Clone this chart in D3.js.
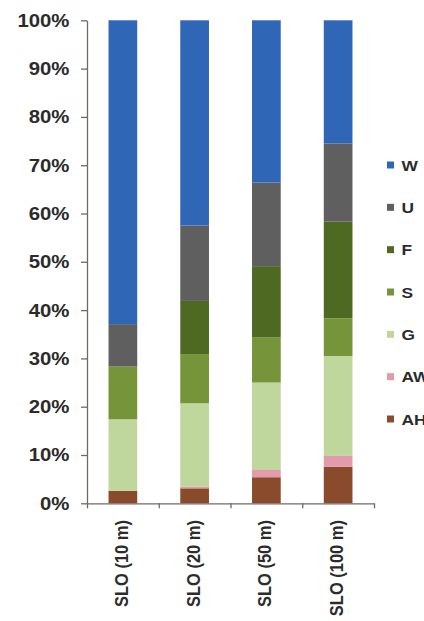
<!DOCTYPE html>
<html>
<head>
<meta charset="utf-8">
<script src="https://cdn.jsdelivr.net/npm/d3@7"></script>
<style>
  html, body { margin: 0; padding: 0; background: #fff; }
  svg { display: block; font-family: "Liberation Sans", Arial, sans-serif; }
</style>
</head>
<body>
<svg id="chart" width="424" height="621"></svg>
<script>
// Sites along the x axis
const categories = ["SLO (10 m)", "SLO (20 m)", "SLO (50 m)", "SLO (100 m)"];

// Share of each class per site (percent)
const AH = [2.6, 3.1, 5.4, 7.6];
const AW = [0.0, 0.3, 1.5, 2.2];
const G  = [14.8, 17.3, 18.1, 20.7];
const S  = [10.9, 10.2, 9.4, 7.8];
const F  = [0.0, 11.0, 14.7, 20.0];
const U  = [8.8, 15.6, 17.3, 16.2];
const W  = [62.9, 42.5, 33.6, 25.5];

// Stack order, bottom to top
const seriesKeys = ["AH", "AW", "G", "S", "F", "U", "W"];
const seriesValues = { AH, AW, G, S, F, U, W };
const seriesColors = {
  W: "#2f66b6", U: "#5f5f60", F: "#4e6a22", S: "#76943a",
  G: "#bfd79c", AW: "#e39bab", AH: "#8a4a2c"
};

// Tick labels for the value axis
const yTickValues = [0, 0.1, 0.2, 0.3, 0.4, 0.5, 0.6, 0.7, 0.8, 0.9, 1.0];
const yTickLabels = ["0%", "10%", "20%", "30%", "40%", "50%", "60%", "70%", "80%", "90%", "100%"];

const rows = categories.map((c, i) => {
  const r = { category: c };
  seriesKeys.forEach(k => { r[k] = seriesValues[k][i]; });
  return r;
});

const stacked = d3.stack()
  .keys(seriesKeys)
  .offset(d3.stackOffsetExpand)(rows);

const svg = d3.select("#chart");
const plotLeft = 87, plotRight = 374, plotTop = 20.3, plotBottom = 503.3;
const textColor = "#2b2b2b", axisColor = "#6f6a66";

const x = d3.scaleBand()
  .domain(categories)
  .range([plotLeft, plotRight])
  .paddingInner(0.6)
  .paddingOuter(0.3);

const xEdge = d3.scaleLinear().domain([0, categories.length]).range([plotLeft, plotRight]);

const y = d3.scaleLinear().domain([0, 1]).range([plotBottom, plotTop]);

// Bars
svg.append("g")
  .selectAll("g")
  .data(stacked)
  .join("g")
    .attr("fill", d => seriesColors[d.key])
  .selectAll("rect")
  .data(d => d)
  .join("rect")
    .attr("x", d => x(d.data.category))
    .attr("width", x.bandwidth())
    .attr("y", d => y(d[1]))
    .attr("height", d => Math.max(0, y(d[0]) - y(d[1])));

// Value axis
const yAxis = svg.append("g")
  .attr("transform", `translate(${plotLeft},0)`)
  .call(d3.axisLeft(y)
    .tickValues(yTickValues)
    .tickFormat((d, i) => yTickLabels[i])
    .tickSize(6)
    .tickSizeOuter(0)
    .tickPadding(10));
yAxis.select(".domain").attr("stroke", axisColor).attr("stroke-width", 1.3);
yAxis.selectAll(".tick line").attr("stroke", axisColor).attr("stroke-width", 1.3);
yAxis.selectAll(".tick text")
  .attr("fill", textColor)
  .attr("font-size", 18.5)
  .attr("font-weight", "bold")
  .attr("font-family", "'Liberation Sans', Arial, sans-serif")
  .attr("transform", "scale(1.1,1)");

// Category axis: line with boundary ticks
const xAxis = svg.append("g")
  .attr("transform", `translate(0,${plotBottom})`)
  .call(d3.axisBottom(xEdge)
    .tickValues(d3.range(categories.length + 1))
    .tickFormat("")
    .tickSize(5)
    .tickSizeOuter(0));
xAxis.select(".domain").attr("stroke", axisColor).attr("stroke-width", 1.3);
xAxis.selectAll(".tick line").attr("stroke", axisColor).attr("stroke-width", 1.3);

// Rotated category labels
svg.append("g")
  .selectAll("text")
  .data(categories)
  .join("text")
    .attr("transform", d => `translate(${x(d) + x.bandwidth() / 2 + 5},520) rotate(-90) scale(1,1.1)`)
    .attr("text-anchor", "end")
    .attr("font-size", 16.5)
    .attr("font-weight", "bold")
    .attr("fill", textColor)
    .text(d => d);

// Legend, top to bottom
const legendKeys = ["W", "U", "F", "S", "G", "AW", "AH"];
const legendY = d3.scalePoint().domain(legendKeys).range([165, 419]);
const legend = svg.append("g")
  .selectAll("g")
  .data(legendKeys)
  .join("g")
    .attr("transform", d => `translate(387,${legendY(d)})`);
legend.append("rect")
  .attr("x", 0).attr("y", -3.5)
  .attr("width", 7).attr("height", 7)
  .attr("fill", d => seriesColors[d]);
legend.append("text")
  .attr("transform", "translate(14.5,0) scale(1.12,1)")
  .attr("dy", "0.36em")
  .attr("font-size", 15.5)
  .attr("font-weight", "bold")
  .attr("fill", textColor)
  .text(d => d);
</script>
</body>
</html>
